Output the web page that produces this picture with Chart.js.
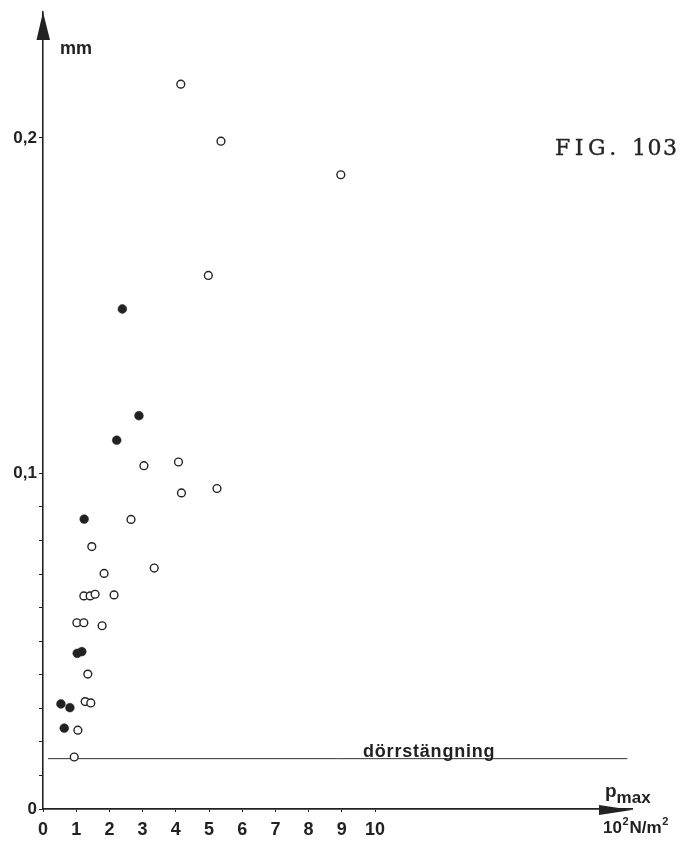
<!DOCTYPE html>
<html>
<head>
<meta charset="utf-8">
<title>FIG. 103</title>
<script src="https://cdn.jsdelivr.net/npm/chart.js@4/dist/chart.umd.min.js"></script>
<style>
  html, body { margin: 0; padding: 0; background: #fff; }
  canvas { display: block; }
</style>
</head>
<body>
<canvas id="c" width="682" height="842"></canvas>
<script>
// Maximum pressure p_max (10^2 N/m^2) against displacement (mm)
const openX = [4.15, 5.36, 8.97, 4.98, 3.04, 4.08, 4.17, 5.24, 2.65, 3.35, 1.84, 1.47,
               1.23, 1.42, 1.57, 2.14, 1.02, 1.23, 1.78, 1.35, 1.27, 1.44, 1.05, 0.94];
const openY = [0.216, 0.199, 0.189, 0.159, 0.1023, 0.1034, 0.0942, 0.0955, 0.0863, 0.0718, 0.0702, 0.0782,
               0.0635, 0.0635, 0.0640, 0.0638, 0.0555, 0.0555, 0.0546, 0.0402, 0.0320, 0.0316, 0.0235, 0.0155];

const filledX = [2.39, 2.89, 2.22, 1.24, 1.03, 1.17, 0.54, 0.81, 0.64];
const filledY = [0.149, 0.1172, 0.1099, 0.0864, 0.0464, 0.0469, 0.0313, 0.0302, 0.0241];

// Door-closing reference level
const doorLevel = 0.015;
const doorLabel = 'dörrstängning';
const doorSpanX = [0.15, 17.6];

// Axis ticks and labels
const xTicks = [0, 1, 2, 3, 4, 5, 6, 7, 8, 9, 10];
const yTicks = [0, 0.01, 0.02, 0.03, 0.04, 0.05, 0.06, 0.07, 0.08, 0.09, 0.1, 0.2];
const yTickLabels = ['0', '', '', '', '', '', '', '', '', '', '0,1', '0,2'];
const xRange = [0, 17.74];
const yRange = [0, 0.2375];

const INK = '#222';
const SANS = '"Liberation Sans", Arial, Helvetica, sans-serif';

const toPoints = (xs, ys) => xs.map((x, i) => ({ x: x, y: ys[i] }));

// Axis arrows, unit labels, caption
const decorations = {
  id: 'decorations',
  afterDraw(chart) {
    const ctx = chart.ctx;
    const a = chart.chartArea;
    const xs = chart.scales.x, ys = chart.scales.y;
    const x0 = xs.getPixelForValue(0);
    const y0 = ys.getPixelForValue(0);
    ctx.save();
    ctx.fillStyle = INK;

    // y arrow head
    ctx.beginPath();
    ctx.moveTo(x0, a.top);
    ctx.lineTo(x0 - 6.5, a.top + 28);
    ctx.lineTo(x0 + 7, a.top + 28);
    ctx.closePath();
    ctx.fill();

    // x arrow head
    ctx.beginPath();
    ctx.moveTo(a.right, y0 + 1);
    ctx.lineTo(a.right - 33, y0 - 4);
    ctx.lineTo(a.right - 33, y0 + 6);
    ctx.closePath();
    ctx.fill();

    ctx.textBaseline = 'alphabetic';
    ctx.textAlign = 'left';

    // y unit
    ctx.font = 'bold 18px ' + SANS;
    ctx.fillText('mm', x0 + 17, 54);

    // door-closing label, sitting on its line
    const yDoor = ys.getPixelForValue(doorLevel);
    ctx.font = 'bold 18px ' + SANS;
    ctx.letterSpacing = '0.8px';
    ctx.fillText(doorLabel, 363, yDoor - 1.5);
    ctx.letterSpacing = '0px';

    // x quantity p_max
    ctx.font = 'bold 19px ' + SANS;
    ctx.fillText('p', 605, 797);
    const pw = ctx.measureText('p').width;
    ctx.font = 'bold 17px ' + SANS;
    ctx.fillText('max', 605 + pw, 803);

    // x unit 10²N/m²
    let ux = 603;
    const uy = 833;
    ctx.font = 'bold 17px ' + SANS;
    ctx.fillText('10', ux, uy); ux += ctx.measureText('10').width + 0.5;
    ctx.font = 'bold 11px ' + SANS;
    ctx.fillText('2', ux, uy - 8); ux += ctx.measureText('2').width + 1;
    ctx.font = 'bold 17px ' + SANS;
    ctx.fillText('N/m', ux, uy); ux += ctx.measureText('N/m').width + 0.5;
    ctx.font = 'bold 11px ' + SANS;
    ctx.fillText('2', ux, uy - 8);

    // figure caption
    ctx.fillStyle = '#262626';
    ctx.strokeStyle = '#262626';
    ctx.lineWidth = 0.35;
    ctx.font = '22px "DejaVu Serif", "Liberation Serif", serif';
    ctx.letterSpacing = '4.5px';
    ctx.fillText('FIG.', 555, 155);
    ctx.strokeText('FIG.', 555, 155);
    ctx.letterSpacing = '1.5px';
    ctx.fillText('103', 632, 155);
    ctx.strokeText('103', 632, 155);
    ctx.letterSpacing = '0px';
    ctx.restore();
  }
};

new Chart(document.getElementById('c'), {
  type: 'scatter',
  data: {
    datasets: [
      {
        label: doorLabel,
        type: 'line',
        data: doorSpanX.map(x => ({ x: x, y: doorLevel })),
        borderColor: '#333',
        borderWidth: 1,
        pointRadius: 0,
        fill: false,
        order: 3
      },
      {
        label: 'open',
        data: toPoints(openX, openY),
        pointStyle: 'circle',
        pointRadius: 3.9,
        pointHoverRadius: 3.9,
        pointBorderWidth: 1.4,
        borderColor: INK,
        backgroundColor: '#fff',
        order: 1
      },
      {
        label: 'filled',
        data: toPoints(filledX, filledY),
        pointStyle: 'circle',
        pointRadius: 4.4,
        pointHoverRadius: 4.4,
        pointBorderWidth: 0.5,
        borderColor: INK,
        backgroundColor: INK,
        order: 2
      }
    ]
  },
  options: {
    responsive: false,
    animation: false,
    devicePixelRatio: 1,
    layout: { padding: { top: 12, right: 50, left: 0, bottom: 0 } },
    plugins: { legend: { display: false }, tooltip: { enabled: false } },
    scales: {
      x: {
        type: 'linear',
        min: xRange[0],
        max: xRange[1],
        afterBuildTicks: s => { s.ticks = xTicks.map(v => ({ value: v })); },
        afterFit: s => { s.height = 33; s.paddingLeft = 0; s.paddingRight = 0; },
        grid: { drawOnChartArea: false, drawTicks: true, tickLength: 3, color: INK, lineWidth: 1 },
        border: { color: INK, width: 1.7 },
        ticks: {
          autoSkip: false,
          maxRotation: 0,
          padding: 9,
          color: INK,
          font: { family: SANS, size: 18, weight: 'bold', lineHeight: 1 },
          callback: v => String(v)
        }
      },
      y: {
        type: 'linear',
        min: yRange[0],
        max: yRange[1],
        afterBuildTicks: s => { s.ticks = yTicks.map(v => ({ value: v })); },
        afterFit: s => { s.width = 43; s.paddingTop = 0; s.paddingBottom = 0; },
        grid: { drawOnChartArea: false, drawTicks: true, tickLength: 4, color: INK, lineWidth: 1 },
        border: { color: INK, width: 1.6 },
        ticks: {
          autoSkip: false,
          padding: 2,
          color: INK,
          font: { family: SANS, size: 17, weight: 'bold', lineHeight: 1 },
          callback: (v, i) => yTickLabels[i]
        }
      }
    }
  },
  plugins: [decorations]
});
</script>
</body>
</html>
